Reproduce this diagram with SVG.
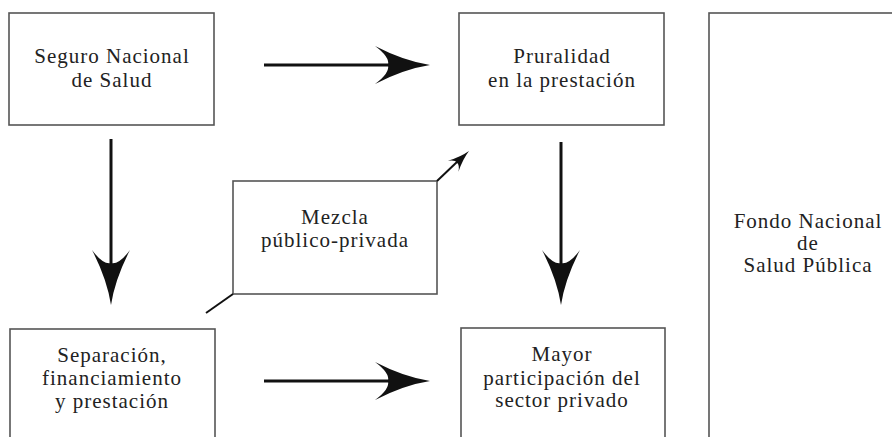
<svg xmlns="http://www.w3.org/2000/svg" width="892" height="437" viewBox="0 0 892 437">
<style>
.box{fill:#fff;stroke:#555;stroke-width:1.6}
.t{font-family:"Liberation Serif","Times New Roman",serif;font-size:21px;fill:#222;text-anchor:middle;letter-spacing:1px}
.shaft{stroke:#111;stroke-width:3;fill:none}
.thin{stroke:#111;stroke-width:2;fill:none}
.head{fill:#111}
</style>
<defs>
<path id="ah" d="M0,0 Q-26,-4 -55,-19 Q-40,-8 -42,0 Q-40,8 -55,19 Q-26,4 0,0 Z"/>
</defs>
<rect width="892" height="437" fill="#fff"/>
<g id="n-seguro">
<rect class="box" x="9" y="13" width="205" height="112"/>
<text class="t" x="112" y="63">Seguro Nacional</text>
<text class="t" x="112" y="87">de Salud</text>
</g>
<g id="n-pruralidad">
<rect class="box" x="459" y="13" width="205" height="112"/>
<text class="t" x="562" y="63">Pruralidad</text>
<text class="t" x="562" y="87">en la prestación</text>
</g>
<g id="n-fondo">
<rect class="box" x="709" y="13" width="200" height="440"/>
<text class="t" x="808" y="228">Fondo Nacional</text>
<text class="t" x="808" y="250">de</text>
<text class="t" x="808" y="272">Salud Pública</text>
</g>
<g id="n-mezcla">
<rect class="box" x="233" y="181" width="204" height="113"/>
<text class="t" x="335" y="224">Mezcla</text>
<text class="t" x="335" y="247">público-privada</text>
</g>
<g id="n-separacion">
<rect class="box" x="10" y="329" width="205" height="130"/>
<text class="t" x="112" y="362">Separación,</text>
<text class="t" x="112" y="385">financiamiento</text>
<text class="t" x="112" y="408">y prestación</text>
</g>
<g id="n-mayor">
<rect class="box" x="461" y="328" width="204" height="130"/>
<text class="t" x="562" y="361">Mayor</text>
<text class="t" x="562" y="385">participación del</text>
<text class="t" x="562" y="407">sector privado</text>
</g>
<g id="connectors">
<line class="shaft" x1="264" y1="65" x2="392" y2="65"/>
<use href="#ah" class="head" transform="translate(430,65)"/>
<line class="shaft" x1="264" y1="381" x2="392" y2="381"/>
<use href="#ah" class="head" transform="translate(430,381)"/>
<line class="shaft" x1="111" y1="139" x2="111" y2="265"/>
<use href="#ah" class="head" transform="translate(111,305) rotate(90)"/>
<line class="shaft" x1="561" y1="142" x2="561" y2="265"/>
<use href="#ah" class="head" transform="translate(561,305) rotate(90)"/>
<line class="thin" x1="206" y1="313" x2="233" y2="294"/>
<line class="thin" x1="437" y1="181" x2="458" y2="161"/>
<use href="#ah" class="head" transform="translate(469,151) rotate(-44) scale(0.4)"/>
</g>
</svg>
